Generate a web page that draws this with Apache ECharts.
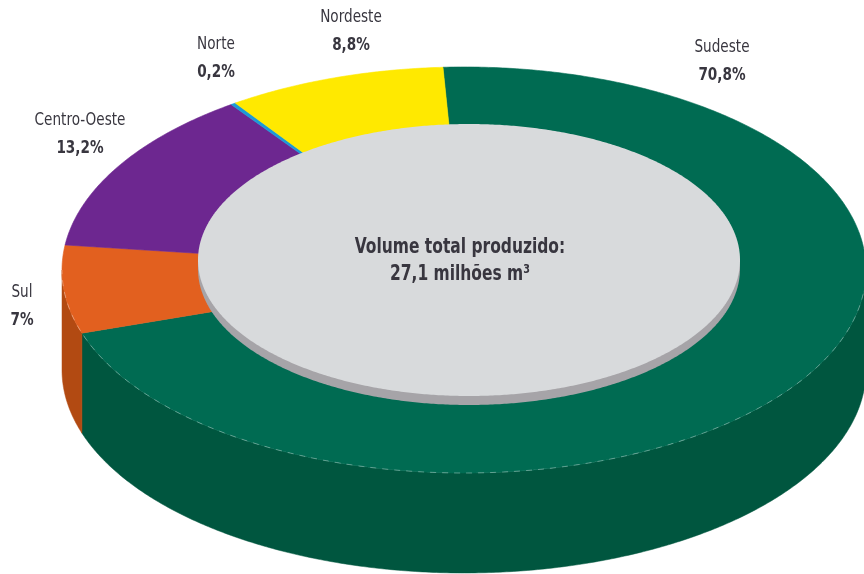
<!DOCTYPE html>
<html><head><meta charset="utf-8">
<script src="https://cdn.jsdelivr.net/npm/echarts@6/dist/echarts.min.js"></script>
<style>html,body{margin:0;padding:0;background:#fff}#c{width:864px;height:574px}</style>
</head><body><div id="c"></div>
<script>
// ---- data ----
const regions = ['Sudeste', 'Sul', 'Centro-Oeste', 'Norte', 'Nordeste'];
const shares = [70.8, 7, 13.2, 0.2, 8.8];
const shareLabels = ['70,8%', '7%', '13,2%', '0,2%', '8,8%'];
const centerTitle = 'Volume total produzido:';
const centerValue = '27,1 milhões m³';

// ---- styles / layout ----
const topColors = ['#006B52', '#E2601F', '#6D2790', '#1C9AD6', '#FFE900'];
const wallColors = ['#00563F', '#B24A12', '#551C70', '#147AB0', '#C8B400'];
const labelPos = [[722, 61], [22, 306], [80, 134], [216, 58], [351, 31]];
const FONT = '"DejaVu Sans Condensed","Liberation Sans Narrow",sans-serif';
const G = {cx: 464, cy: 270, rx: 402, ry: 203, depth: 100, inner: 0.64, start: -93};
const DISK = {cx: 469, cy: 260, rx: 271, ry: 136, rim: 9};

const total = shares.reduce((a, b) => a + b, 0);
const cum = [];
shares.reduce((acc, v, i) => { cum[i] = acc; return acc + v; }, 0);

function pt(deg, k, dy) {
  const r = deg * Math.PI / 180;
  return [G.cx + G.rx * k * Math.cos(r), G.cy + G.ry * k * Math.sin(r) + (dy || 0)];
}
function arc(a, b, k, dy) {
  const n = Math.max(2, Math.ceil(Math.abs(b - a) * 2));
  const out = [];
  for (let i = 0; i <= n; i++) out.push(pt(a + (b - a) * i / n, k, dy));
  return out;
}
function ellipsePts(cx, cy, rx, ry) {
  const out = [];
  for (let i = 0; i < 720; i++) {
    const r = i / 720 * Math.PI * 2;
    out.push([cx + rx * Math.cos(r), cy + ry * Math.sin(r)]);
  }
  return out;
}
function label(x, y, text, bold, size, sx) {
  return {type: 'text', z2: 20, x: x, y: y, scaleX: sx, scaleY: 1,
    style: {text: text, fill: '#38363f', font: (bold ? 'bold ' : '') + size + 'px ' + FONT,
      align: 'center', verticalAlign: 'middle'}};
}

function renderSlice(params, api) {
  const i = params.dataIndex;
  const v = api.value(1);
  const a = G.start + cum[i] / total * 360;
  const b = a + v / total * 360;
  const children = [];
  // side walls (front half only: 0..180 in screen angles)
  for (let k = -1; k <= 1; k++) {
    const lo = Math.max(a, k * 360), hi = Math.min(b, k * 360 + 180);
    if (hi > lo) {
      const top = arc(lo, hi, 1, 0);
      const bot = arc(hi, lo, 1, G.depth);
      children.push({type: 'polygon', z2: 1, shape: {points: top.concat(bot)},
        style: {fill: wallColors[i], stroke: wallColors[i], lineWidth: 0.5}});
    }
  }
  // top face
  const outer = arc(a, b, 1, 0);
  const inner = arc(b, a, G.inner, 0);
  children.push({type: 'polygon', z2: 5, shape: {points: outer.concat(inner)},
    style: {fill: topColors[i], stroke: topColors[i], lineWidth: 0.6}});
  // labels
  const p = labelPos[i];
  children.push(label(p[0], p[1] - 14, regions[i], false, 18, 0.84));
  children.push(label(p[0], p[1] + 14, shareLabels[i], true, 18, 0.84));
  return {type: 'group', children: children};
}

function renderDisk(params, api) {
  const children = [];
  // faint seam along front edge of top face
  children.push({type: 'polyline', z2: 2, shape: {points: arc(0, 180, 1, 0)},
    style: {stroke: 'rgba(255,255,255,0.35)', lineWidth: 1, lineDash: [6, 6], fill: null}});
  children.push({type: 'polygon', z2: 6, shape: {points: ellipsePts(DISK.cx, DISK.cy + DISK.rim, DISK.rx, DISK.ry)},
    style: {fill: '#A6A4A8'}});
  children.push({type: 'polygon', z2: 7, shape: {points: ellipsePts(DISK.cx, DISK.cy, DISK.rx, DISK.ry)},
    style: {fill: '#D8DADC'}});
  children.push(label(DISK.cx - 9, DISK.cy - 12, centerTitle, true, 21, 0.82));
  children.push(label(DISK.cx - 9, DISK.cy + 15, centerValue, true, 21, 0.82));
  return {type: 'group', children: children};
}

const chart = echarts.init(document.getElementById('c'), null, {renderer: 'canvas'});
chart.setOption({
  animation: false,
  backgroundColor: '#ffffff',
  series: [
    {type: 'custom', coordinateSystem: 'none', z: 1, renderItem: renderSlice,
      data: regions.map((r, i) => [i, shares[i]])},
    {type: 'custom', coordinateSystem: 'none', z: 2, renderItem: renderDisk,
      data: [[0, total]]}
  ]
});
</script></body></html>
